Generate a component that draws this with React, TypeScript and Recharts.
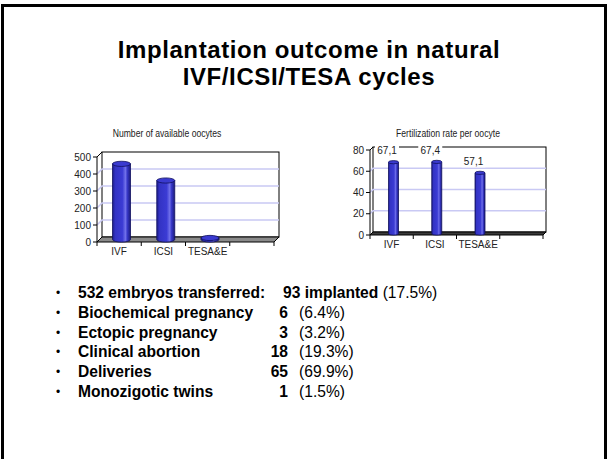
import React from "react";
import {
  BarChart,
  Bar,
  XAxis,
  YAxis,
  CartesianGrid,
  LabelList,
} from "recharts";

// chart data
const categories = ["IVF", "ICSI", "TESA&E", ""];
const oocyteCounts = [445, 347, 9, null];
const fertilizationRates = [67.1, 67.4, 57.1, null];

const oocyteTicks = [0, 100, 200, 300, 400, 500];
const rateTicks = [0, 20, 40, 60, 80];

// bullet list
const transferLine = { lead: "532 embryos transferred:", count: "93 implanted", pct: "(17.5%)" };
const outcomeLabels = [
  "Biochemical pregnancy",
  "Ectopic pregnancy",
  "Clinical abortion",
  "Deliveries",
  "Monozigotic twins",
];
const outcomeCounts = [6, 3, 18, 65, 1];
const outcomePercents = ["6.4%", "3.2%", "19.3%", "69.9%", "1.5%"];

const oocyteData = categories.map((name, i) => ({ name, value: oocyteCounts[i] }));
const rateData = categories.map((name, i) => ({ name, value: fertilizationRates[i] }));

const FONT = '"Liberation Sans", Arial, sans-serif';

// 3D-ish box: side wall, back wall and floor drawn off the grid lines
function makeGrid(dx: number, dy: number, floorFill: string) {
  return (p: any) => {
    const { x1, y1, x2, index } = p;
    const top = p.y;
    const bottom = p.y + p.height;
    const left = p.x;
    const right = p.x + p.width;
    const parts: React.ReactNode[] = [];
    if (Math.abs(y1 - top) > 0.5 && Math.abs(y1 - bottom) > 0.5) {
      parts.push(
        <polyline
          key={`gl-${index}`}
          points={`${x1},${y1} ${x1 + dx},${y1 - dy} ${x2 + dx},${y1 - dy}`}
          fill="none"
          stroke="#c9c9f4"
          strokeWidth={1.5}
        />
      );
    }
    if (index === 0) {
      parts.push(
        <g key="walls">
          <rect x={left + dx} y={top - dy} width={right - left} height={bottom - top} fill="none" stroke="#000" strokeWidth={1} />
          <line x1={left} y1={top} x2={left + dx} y2={top - dy} stroke="#000" />
          <polygon
            points={`${left},${bottom} ${right},${bottom} ${right + dx},${bottom - dy} ${left + dx},${bottom - dy}`}
            fill={floorFill}
            stroke="#000"
            strokeWidth={1}
          />
        </g>
      );
    }
    return <g key={`g-${index}`}>{parts}</g>;
  };
}

function makeCylinder(dx: number, dy: number, ry: number, gradId: string) {
  return (props: any) => {
    const { x, y, width, height } = props;
    if (x == null || height == null || isNaN(height)) return <g />;
    const rx = width / 2;
    const cx = x + rx + dx / 2;
    const topY = y - dy / 2;
    const botY = y + height - dy / 2;
    return (
      <g>
        <path
          d={`M${cx - rx},${topY} L${cx - rx},${botY} A${rx},${ry} 0 0 0 ${cx + rx},${botY} L${cx + rx},${topY} Z`}
          fill={`url(#${gradId})`}
          stroke="#10105e"
          strokeWidth={0.8}
        />
        <ellipse cx={cx} cy={topY} rx={rx} ry={ry} fill="#3a3ad0" stroke="#10105e" strokeWidth={0.8} />
      </g>
    );
  };
}

function makeTick(labelDy: number, tickLen: number) {
  return (props: any) => {
    const { x, y, payload, index, visibleTicksCount } = props;
    const half = payload?.offset ?? 0;
    return (
      <g>
        <line x1={x - half} x2={x - half} y1={y} y2={y + tickLen} stroke="#000" />
        {index === visibleTicksCount - 1 && (
          <line x1={x + half} x2={x + half} y1={y} y2={y + tickLen} stroke="#000" />
        )}
        <text x={x} y={y + labelDy} textAnchor="middle" fontSize={10} fill="#222" fontFamily={FONT}>
          {payload.value}
        </text>
      </g>
    );
  };
}

const RateLabel = (props: any) => {
  const vb = props.viewBox ?? props;
  const { value } = props;
  if (value == null) return null;
  const cx = vb.x + vb.width / 2 - 5;
  const cy = vb.y - 13;
  return (
    <g>
      <rect x={cx - 12} y={cy - 6} width={24} height={12} fill="#fff" />
      <text x={cx} y={cy + 3.5} textAnchor="middle" fontSize={10} fill="#222" fontFamily={FONT}>
        {String(value).replace(".", ",")}
      </text>
    </g>
  );
};

const yTick = { fontSize: 10, fill: "#222", fontFamily: FONT };
const ROW_TOP = 283;
const ROW_GAP = 19.8;
const TEXT_SIZE = 15.6;

// no narrow font installed, so squeeze the chart titles
const chartTitleStyle: React.CSSProperties = {
  position: "absolute",
  top: 127,
  width: 160,
  textAlign: "center",
  fontSize: 10.5,
  color: "#222",
  transform: "scaleX(0.82)",
  transformOrigin: "center",
};

export default function App() {
  return (
    <div
      style={{
        position: "absolute",
        left: 0,
        top: 0,
        width: 610,
        height: 459,
        background: "#fff",
        overflow: "hidden",
        fontFamily: FONT,
        color: "#000",
      }}
    >
      <svg width={0} height={0} style={{ position: "absolute" }}>
        <defs>
          <linearGradient id="cyl" x1="0" y1="0" x2="1" y2="0">
            <stop offset="0%" stopColor="#1c1c88" />
            <stop offset="15%" stopColor="#3333c4" />
            <stop offset="55%" stopColor="#3b3bd4" />
            <stop offset="72%" stopColor="#7070ea" />
            <stop offset="82%" stopColor="#3838c8" />
            <stop offset="100%" stopColor="#1a1a7c" />
          </linearGradient>
        </defs>
      </svg>

      {/* slide frame */}
      <div
        style={{
          position: "absolute",
          left: 1,
          top: 4,
          width: 600,
          height: 470,
          border: "3px solid #000",
        }}
      />

      {/* title */}
      <div
        style={{
          position: "absolute",
          left: 0,
          top: 36,
          width: 618,
          textAlign: "center",
          fontWeight: "bold",
          fontSize: 24,
          lineHeight: "27px",
          letterSpacing: 0.6,
        }}
      >
        Implantation outcome in natural
        <br />
        IVF/ICSI/TESA cycles
      </div>

      {/* chart titles */}
      <div style={{ ...chartTitleStyle, left: 87 }}>Number of available oocytes</div>
      <div style={{ ...chartTitleStyle, left: 368 }}>Fertilization rate per oocyte</div>

      {/* chart 1 */}
      <div style={{ position: "absolute", left: 0, top: 140 }}>
        <BarChart width={300} height={120} data={oocyteData} margin={{ top: 17, right: 26, bottom: 0, left: 57 }}>
          <CartesianGrid vertical={false} horizontal={makeGrid(5, 5, "#8a8a8a")} syncWithTicks />
          <XAxis dataKey="name" height={18} axisLine={false} tickLine={false} tickSize={0} tickMargin={0} interval={0} tick={makeTick(13, 4)} />
          <YAxis width={40} domain={[0, 500]} ticks={oocyteTicks} interval={0} tick={yTick} tickSize={4} axisLine={{ stroke: "#000" }} tickLine={{ stroke: "#000" }} />
          <Bar dataKey="value" barSize={18} shape={makeCylinder(5, 5, 2.6, "cyl")} isAnimationActive={false} />
        </BarChart>
      </div>

      {/* chart 2 */}
      <div style={{ position: "absolute", left: 300, top: 140 }}>
        <BarChart width={280} height={120} data={rateData} margin={{ top: 10, right: 37, bottom: 0, left: 40 }}>
          <CartesianGrid vertical={false} horizontal={makeGrid(3, 3, "#3a3a3a")} syncWithTicks />
          <XAxis dataKey="name" height={25} axisLine={false} tickLine={false} tickSize={0} tickMargin={0} interval={0} tick={makeTick(13, 4)} />
          <YAxis width={30} domain={[0, 80]} ticks={rateTicks} interval={0} tick={yTick} tickSize={4} axisLine={{ stroke: "#000" }} tickLine={{ stroke: "#000" }} />
          <Bar dataKey="value" barSize={10} shape={makeCylinder(3, 3, 1.6, "cyl")} isAnimationActive={false}>
            <LabelList dataKey="value" content={RateLabel} />
          </Bar>
        </BarChart>
      </div>

      {/* bullet list */}
      <div style={{ position: "absolute", left: 0, top: 0, fontSize: TEXT_SIZE }}>
        <div style={{ position: "absolute", left: 56, top: ROW_TOP, lineHeight: "20px", fontSize: 12 }}>•</div>
        <div style={{ position: "absolute", left: 78, top: ROW_TOP, lineHeight: "20px", fontWeight: "bold", whiteSpace: "nowrap" }}>
          {transferLine.lead}
        </div>
        <div style={{ position: "absolute", left: 283, top: ROW_TOP, lineHeight: "20px", whiteSpace: "pre" }}>
          <b>{transferLine.count} </b>
          {transferLine.pct}
        </div>
        {outcomeLabels.map((label, i) => {
          const top = ROW_TOP + (i + 1) * ROW_GAP;
          return (
            <React.Fragment key={label}>
              <div style={{ position: "absolute", left: 56, top, lineHeight: "20px", fontSize: 12 }}>•</div>
              <div style={{ position: "absolute", left: 78, top, lineHeight: "20px", fontWeight: "bold", whiteSpace: "nowrap" }}>
                {label}
              </div>
              <div style={{ position: "absolute", left: 238, width: 50, top, lineHeight: "20px", fontWeight: "bold", textAlign: "right" }}>
                {outcomeCounts[i]}
              </div>
              <div style={{ position: "absolute", left: 299, top, lineHeight: "20px", whiteSpace: "nowrap" }}>
                ({outcomePercents[i]})
              </div>
            </React.Fragment>
          );
        })}
      </div>
    </div>
  );
}
